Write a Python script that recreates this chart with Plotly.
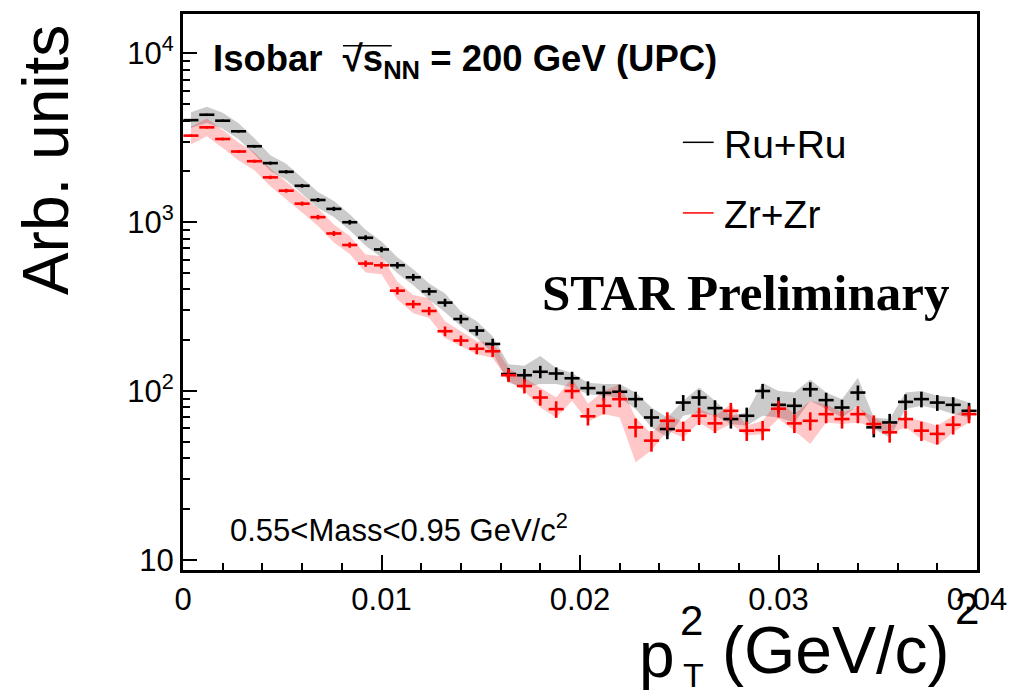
import plotly.graph_objects as go

# pT^2 bin centres (GeV/c)^2, bin width 0.0008
pt2 = [0.0004, 0.0012, 0.0020, 0.0028, 0.0036, 0.0044, 0.0052, 0.0060, 0.0068, 0.0076,
       0.0084, 0.0092, 0.0100, 0.0108, 0.0116, 0.0124, 0.0132, 0.0140, 0.0148, 0.0156,
       0.0164, 0.0172, 0.0180, 0.0188, 0.0196, 0.0204, 0.0212, 0.0220, 0.0228, 0.0236,
       0.0244, 0.0252, 0.0260, 0.0268, 0.0276, 0.0284, 0.0292, 0.0300, 0.0308, 0.0316,
       0.0324, 0.0332, 0.0340, 0.0348, 0.0356, 0.0364, 0.0372, 0.0380, 0.0388, 0.0396]
half_bin = 0.00038

# Ru+Ru yields, statistical errors and systematic band
ru = [4027, 4335, 3998, 3458, 2820, 2240, 1990, 1645, 1355, 1200,
      1000, 809, 690, 556, 472, 389, 334, 267, 228, 190,
      126, 124, 130, 127, 119, 104, 97.5, 99, 89.5, 69.7,
      59.5, 85.4, 91.5, 79.2, 68.2, 71.3, 100, 82.8, 81.7, 102.5,
      88.3, 79.8, 97.9, 60.9, 65.1, 86.2, 89.5, 85.4, 82.8, 76.3]
ru_err = [63, 66, 63, 59, 53, 47, 45, 41, 37, 35,
          32, 28, 26, 24, 22, 20, 18, 16, 15, 14,
          11, 11, 11, 11, 11, 10, 10, 10, 9.5, 8.3,
          7.7, 9.2, 9.6, 8.9, 8.3, 8.4, 10, 9.1, 9.0, 10.1,
          9.4, 8.9, 9.9, 7.8, 8.1, 9.3, 9.5, 9.2, 9.1, 8.7]
ru_band_hi = [4490, 4834, 4458, 3856, 3144, 2498, 2219, 1834, 1511, 1338,
              1115, 902, 769, 620, 526, 434, 378, 296, 259, 211,
              144, 141, 161, 137, 128, 112, 110, 110, 97.9, 79.8,
              69.7, 87.4, 105, 87.4, 71.3, 74.6, 112, 100, 97.9, 117,
              97.9, 89.5, 120, 69.7, 68.2, 97.9, 100, 93.6, 91.4, 85.4]
ru_band_lo = [3612, 3888, 3586, 3101, 2529, 2009, 1785, 1475, 1215, 1076,
              897, 726, 619, 499, 423, 349, 292.5, 242, 206, 168,
              112, 105, 110, 110, 105, 95.7, 93.6, 91.4, 78.1, 60.9,
              53.1, 71.3, 74.6, 71.3, 63.7, 62.3, 71.3, 69.7, 65.1, 87.4,
              78.1, 69.7, 81.7, 59.6, 53.1, 78.1, 81.7, 78.1, 73, 69.7]

# Zr+Zr yields, statistical errors and systematic band
zr = [3260, 3650, 3113, 2625, 2300, 1845, 1538, 1289, 1072, 858,
      733, 569, 556, 393, 327, 298, 226, 199, 178, 172,
      124, 107, 91.5, 78.1, 100, 70.8, 81.7, 89.5, 60.9, 50.8,
      66.6, 58.2, 71.3, 64.3, 76.3, 58.2, 58.7, 78.5, 64.3, 66.6,
      72.9, 68.2, 72.9, 63.7, 56.9, 68.2, 58.2, 55.7, 63.1, 72.9]
zr_err = [57, 60, 56, 51, 48, 43, 39, 36, 33, 29,
          27, 24, 24, 20, 18, 17, 15, 14, 13, 13,
          11, 10.3, 9.6, 8.8, 10, 8.4, 9.0, 9.5, 7.8, 7.1,
          8.2, 7.6, 8.4, 8.0, 8.7, 7.6, 7.7, 8.9, 8.0, 8.2,
          8.5, 8.3, 8.5, 8.0, 7.5, 8.3, 7.6, 7.5, 7.9, 8.5]
zr_band_hi = [3684, 4125, 3518, 2966, 2599, 2085, 1738, 1457, 1211, 970,
              828, 643, 628, 444, 370, 355, 259, 226, 197, 193,
              137, 120, 105, 91.4, 120, 84, 100, 110, 69.7, 55.7,
              73, 65.1, 78.1, 71.3, 83.6, 62.3, 66.6, 87.4, 73, 87.4,
              83.6, 74.6, 79.8, 69.7, 62.3, 69.7, 66.6, 62.3, 71.3, 80]
zr_band_lo = [2885, 3230, 2755, 2323, 2035, 1633, 1361, 1141, 949, 759,
              649, 504, 492, 348, 289, 271, 206, 184, 165, 157,
              115, 100, 79.8, 69.7, 87.4, 65.8, 73, 69.7, 37.8, 44.4,
              58.2, 53.1, 65.1, 56.9, 63.7, 54.4, 55.7, 68.5, 58.2, 48.6,
              65.1, 63.7, 65.1, 60.9, 55.7, 60.9, 52, 47.5, 56.9, 65.1]

x_ticks = [0, 0.01, 0.02, 0.03, 0.04]
x_ticktext = ["0", "0.01", "0.02", "0.03", "0.04"]
y_ticks = [10, 100, 1000, 10000]
y_ticktext = ["10", "10<sup>2</sup>", "10<sup>3</sup>", "10<sup>4</sup>"]
y_minor_ticks = [20, 30, 40, 50, 60, 70, 80, 90,
                 200, 300, 400, 500, 600, 700, 800, 900,
                 2000, 3000, 4000, 5000, 6000, 7000, 8000, 9000]

W, H = 1018, 697
L, R, T, B = 183, 982, 11, 570
SANS = "Liberation Sans, Arial, Helvetica, sans-serif"
SERIF = "Liberation Serif, Times New Roman, serif"


def fx(p):
    return (p - L) / (R - L)


def fy(p):
    return (B - p) / (B - T)


fig = go.Figure()

# systematic bands
fig.add_trace(go.Scatter(
    x=pt2 + pt2[::-1], y=ru_band_hi + ru_band_lo[::-1],
    fill="toself", fillcolor="rgba(140,140,140,0.45)", line=dict(width=0),
    mode="lines", hoverinfo="skip", showlegend=False))
fig.add_trace(go.Scatter(
    x=pt2 + pt2[::-1], y=zr_band_hi + zr_band_lo[::-1],
    fill="toself", fillcolor="rgba(255,0,0,0.22)", line=dict(width=0),
    mode="lines", hoverinfo="skip", showlegend=False))

# data points with statistical errors
for vals, errs, col, name in [(ru, ru_err, "#000000", "Ru+Ru"), (zr, zr_err, "#ff0000", "Zr+Zr")]:
    fig.add_trace(go.Scatter(
        x=pt2, y=vals, mode="markers", name=name,
        marker=dict(size=1, color=col, opacity=0),
        error_x=dict(type="constant", value=half_bin, width=0, thickness=2.6, color=col),
        error_y=dict(type="data", array=errs, width=0, thickness=2.6, color=col),
        showlegend=False))

axis_common = dict(showline=True, linewidth=3, linecolor="black", mirror=True,
                   ticks="inside", tickcolor="black", showgrid=False, zeroline=False,
                   tickfont=dict(family=SANS, size=31, color="black"))

fig.update_xaxes(range=[0, 0.04], tickvals=x_ticks, ticktext=x_ticktext,
                 ticklen=15, tickwidth=1.5,
                 minor=dict(dtick=0.002, ticks="inside", ticklen=7, tickwidth=1.5,
                            tickcolor="black", showgrid=False),
                 **axis_common)
fig.update_yaxes(type="log", range=[0.9393, 4.234], tickvals=y_ticks, ticktext=y_ticktext,
                 ticklen=14, tickwidth=1.5,
                 minor=dict(tickmode="array", tickvals=y_minor_ticks, ticks="inside",
                            ticklen=7, tickwidth=1.5, tickcolor="black", showgrid=False),
                 **axis_common)

ann = []
# header
ann.append(dict(x=fx(211), y=fy(58), xanchor="left", yanchor="middle",
                text="<b>Isobar  √s<sub>NN</sub> = 200 GeV (UPC)</b>",
                font=dict(family=SANS, size=36.5, color="black"), showarrow=False))
# legend entries
ann.append(dict(x=fx(725), y=fy(142), xanchor="left", yanchor="middle", text="Ru+Ru",
                font=dict(family=SANS, size=39, color="black"), showarrow=False))
ann.append(dict(x=fx(725), y=fy(213), xanchor="left", yanchor="middle", text="Zr+Zr",
                font=dict(family=SANS, size=39, color="black"), showarrow=False))
# preliminary label
ann.append(dict(x=fx(750), y=fy(292), xanchor="center", yanchor="middle",
                text="<b>STAR Preliminary</b>",
                font=dict(family=SERIF, size=51, color="black"), showarrow=False))
# mass window
ann.append(dict(x=fx(228), y=fy(528), xanchor="left", yanchor="middle",
                text="0.55&lt;Mass&lt;0.95 GeV/c<sup>2</sup>",
                font=dict(family=SANS, size=31, color="black"), showarrow=False))
# y title
ann.append(dict(x=fx(45), y=fy(158), xanchor="center", yanchor="middle",
                text="Arb. units", textangle=-90,
                font=dict(family=SANS, size=64, color="black"), showarrow=False))
# x title pieces
ann.append(dict(x=fx(660), y=fy(655), xanchor="center", yanchor="middle", text="p",
                font=dict(family=SANS, size=64, color="black"), showarrow=False))
ann.append(dict(x=fx(695), y=fy(621), xanchor="center", yanchor="middle", text="2",
                font=dict(family=SANS, size=42, color="black"), showarrow=False))
ann.append(dict(x=fx(697), y=fy(676), xanchor="center", yanchor="middle", text="T",
                font=dict(family=SANS, size=34, color="black"), showarrow=False))
ann.append(dict(x=fx(840), y=fy(650), xanchor="center", yanchor="middle", text="(GeV/c)",
                font=dict(family=SANS, size=66, color="black"), showarrow=False))
ann.append(dict(x=fx(972), y=fy(609), xanchor="center", yanchor="middle", text="2",
                font=dict(family=SANS, size=44, color="black"), showarrow=False))
for a in ann:
    a["xref"] = "paper"
    a["yref"] = "paper"

shapes = [
    # legend keys
    dict(type="line", xref="paper", yref="paper", x0=fx(686), x1=fx(717), y0=fy(140), y1=fy(140),
         line=dict(color="black", width=1.5)),
    dict(type="line", xref="paper", yref="paper", x0=fx(686), x1=fx(717), y0=fy(211), y1=fy(211),
         line=dict(color="red", width=1.5)),
    # radical bar over s_NN
    dict(type="line", xref="paper", yref="paper", x0=fx(344), x1=fx(393), y0=fy(43), y1=fy(43),
         line=dict(color="black", width=1.5)),
]

fig.update_layout(
    width=W, height=H, autosize=False,
    margin=dict(l=L, r=W - R, t=T, b=H - B, pad=0),
    paper_bgcolor="white", plot_bgcolor="white",
    annotations=ann, shapes=shapes, showlegend=False,
)

fig.write_html("out.html")
